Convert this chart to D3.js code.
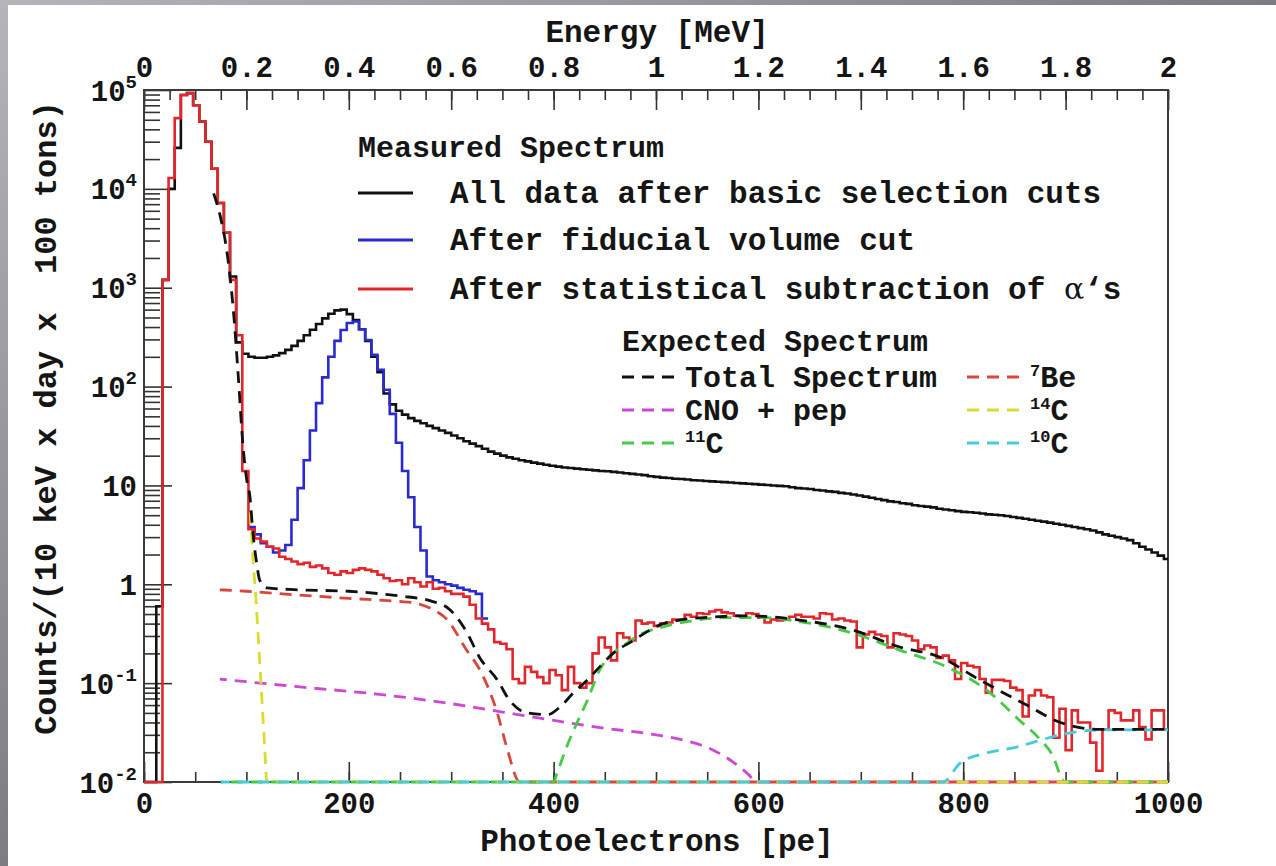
<!DOCTYPE html>
<html>
<head>
<meta charset="utf-8">
<script src="https://cdn.jsdelivr.net/npm/d3@7"></script>
<style>
  body { margin: 0; background: #fff; }
  svg text { font-family: "Liberation Mono", "Courier New", monospace; font-weight: bold; fill: #151515; }
</style>
</head>
<body>
<div id="chart"></div>
<script>
// Histogram bins: 6 pe wide, starting at 0 pe
var binWidth = 6;

// All data after basic selection cuts (black)
var allData = [
  0.01, 0.01, 0.6, 1200, 10000, 26000, 89000, 93000, 70000, 48000,
  30000, 16000, 7200, 3600, 1300, 280, 215, 200, 196, 196,
  200, 207, 218, 235, 258, 290, 330, 375, 430, 490,
  545, 590, 600, 540, 470, 380, 290, 200, 140, 85,
  66, 57, 52, 48, 45, 42.5, 40, 38, 36, 34,
  32, 30, 28, 26.5, 25, 23.5, 22, 21, 20, 19.2,
  18.6, 18, 17.5, 17, 16.6, 16.2, 15.8, 15.5, 15.2, 15,
  14.8, 14.6, 14.4, 14.2, 14, 13.9, 13.7, 13.5, 13.3, 13.1,
  12.9, 12.7, 12.4, 12.2, 12.0, 11.9, 11.7, 11.6, 11.5, 11.3,
  11.2, 11.1, 11.0, 10.9, 10.8, 10.7, 10.6, 10.5, 10.4, 10.3,
  10.2, 10.1, 10.0, 9.9, 9.8, 9.6, 9.4, 9.3, 9.2, 9.0,
  8.9, 8.7, 8.6, 8.4, 8.3, 8.1, 7.9, 7.7, 7.5, 7.3,
  7.1, 6.9, 6.8, 6.6, 6.5, 6.3, 6.2, 6.1, 6.0, 5.8,
  5.7, 5.6, 5.5, 5.4, 5.35, 5.3, 5.2, 5.1, 5.05, 5.0,
  4.9, 4.8, 4.7, 4.6, 4.5, 4.4, 4.3, 4.2, 4.1, 4.0,
  3.9, 3.8, 3.7, 3.6, 3.5, 3.35, 3.2, 3.1, 3.0, 2.9,
  2.8, 2.6, 2.4, 2.25, 2.1, 1.95, 1.8
];

// After fiducial volume cut (blue), first bin = 17
var fiducialFirstBin = 17;
var fiducialData = [
  3.8, 3.2, 2.6, 2.4, 2.1, 2.2, 2.5, 4.5, 9.4,
  18, 36, 68, 124, 200, 290, 374, 440, 455, 380,
  296, 209, 148, 93, 53, 27, 14, 7.6, 3.8, 2.2,
  1.2, 1.1, 1.05, 1.0, 0.97, 0.92, 0.88, 0.85, 0.8, 0.45
];

// After statistical subtraction of alphas (red)
var subtractedData = [
  0.01, 0.01, 0.01, 1200, 12900, 52000, 89000, 93000, 70000, 48000,
  30000, 16000, 7200, 3600, 1200, 330, 14, 3.6, 2.9, 2.7,
  2.4, 2.3, 1.9, 1.8, 1.7, 1.6, 1.65, 1.5, 1.55, 1.45,
  1.3, 1.25, 1.35, 1.3, 1.4, 1.45, 1.4, 1.35, 1.25, 1.15,
  1.08, 1.1, 1.0, 1.15, 1.05, 0.95, 1.05, 0.9, 0.92, 0.85,
  0.8, 0.8, 0.75, 0.62, 0.45, 0.40, 0.35, 0.26, 0.25, 0.22,
  0.11, 0.10, 0.146, 0.13, 0.115, 0.10, 0.136, 0.12, 0.085, 0.146,
  0.10, 0.09, 0.10, 0.20, 0.29, 0.23, 0.17, 0.32, 0.29, 0.27,
  0.43, 0.40, 0.41, 0.38, 0.40, 0.41, 0.44, 0.44, 0.49, 0.47,
  0.51, 0.50, 0.53, 0.55, 0.52, 0.51, 0.48, 0.47, 0.51, 0.50,
  0.46, 0.41, 0.44, 0.43, 0.44, 0.47, 0.49, 0.47, 0.47, 0.45,
  0.51, 0.50, 0.44, 0.45, 0.43, 0.42, 0.23, 0.31, 0.33, 0.31,
  0.30, 0.23, 0.32, 0.31, 0.30, 0.27, 0.22, 0.24, 0.23, 0.18,
  0.19, 0.17, 0.11, 0.16, 0.15, 0.145, 0.11, 0.08, 0.108, 0.108,
  0.105, 0.09, 0.085, 0.046, 0.075, 0.085, 0.075, 0.072, 0.028, 0.055,
  0.021, 0.053, 0.04, 0.04, 0.025, 0.013, 0.034, 0.053, 0.05, 0.042,
  0.042, 0.053, 0.036, 0.027, 0.053, 0.053, 0.034
];

// Expected spectrum components: [pe, counts]
var totalSpectrum = [[68, 9000], [75, 5000], [80, 2700], [84, 1300], [88, 480], [92, 130], [96.7, 25], [100, 12],
  [103.5, 7.6], [106.4, 3.3], [110, 1.64], [113, 1.1], [120, 0.92], [150, 0.88], [200, 0.85], [250, 0.76],
  [280, 0.68], [299, 0.55], [315, 0.33], [328, 0.18], [345, 0.108], [357, 0.067], [374, 0.05], [394, 0.048],
  [406, 0.057], [419, 0.079], [433, 0.108], [445, 0.146], [458, 0.2], [478, 0.27], [491, 0.33], [507, 0.4],
  [523, 0.435], [556, 0.467], [589, 0.48], [611, 0.47], [640, 0.435], [692, 0.345], [738, 0.232], [777, 0.184],
  [816, 0.108], [862, 0.06], [895, 0.04], [934, 0.034], [982, 0.034], [1000, 0.034]];
var be7 = [[74, 0.88], [100, 0.85], [150, 0.78], [200, 0.72], [250, 0.67], [263, 0.65], [280, 0.57], [296, 0.44],
  [315, 0.216], [328, 0.136], [345, 0.05], [354, 0.023], [367, 0.01], [1000, 0.01]];
var cnoPep = [[74, 0.11], [150, 0.092], [230, 0.077], [300, 0.062], [350, 0.051], [400, 0.042], [450, 0.035],
  [500, 0.03], [530, 0.026], [556, 0.021], [575, 0.016], [590, 0.012], [598, 0.01], [1000, 0.01]];
var c14 = [[103.5, 6], [105.5, 2.5], [109.4, 0.69], [112.3, 0.216], [115.2, 0.067], [118, 0.021], [120, 0.01], [1000, 0.01]];
var c11 = [[75, 0.01], [400, 0.01], [403, 0.012], [413, 0.023], [423, 0.04], [433, 0.067], [445, 0.136], [458, 0.2],
  [472, 0.255], [487, 0.32], [507, 0.37], [540, 0.435], [572, 0.46], [605, 0.46], [640, 0.42], [692, 0.32],
  [738, 0.216], [784, 0.146], [823, 0.085], [855, 0.042], [875, 0.027], [888, 0.018], [897, 0.0105], [900, 0.01], [1000, 0.01]];
var c10 = [[75, 0.01], [780, 0.01], [797, 0.0155], [823, 0.0197], [852, 0.0225], [878, 0.027], [901, 0.031],
  [934, 0.0336], [1000, 0.0336]];

// Tick values
var peTicks = [0, 200, 400, 600, 800, 1000];
var energyTicks = [0, 0.2, 0.4, 0.6, 0.8, 1, 1.2, 1.4, 1.6, 1.8, 2];
var decadeTicks = [0.01, 0.1, 1, 10, 100, 1000, 10000, 100000];
var decadeLabels = [["10", "-2"], ["10", "-1"], ["1", ""], ["10", ""], ["10", "2"], ["10", "3"], ["10", "4"], ["10", "5"]];

// Set SVG container dimensions
var svgWidth = 1276;
var svgHeight = 866;
var frame = { left: 144, right: 1168, top: 90, bottom: 782 };

var svg = d3.select("#chart")
  .append("svg")
  .attr("width", svgWidth)
  .attr("height", svgHeight);

// Grey border of the original slide
var defs = svg.append("defs");
var grad = defs.append("linearGradient").attr("id", "bg").attr("x1", 0).attr("y1", 0).attr("x2", 1).attr("y2", 1);
grad.append("stop").attr("offset", "0%").attr("stop-color", "#b4b4ba");
grad.append("stop").attr("offset", "50%").attr("stop-color", "#7c7c84");
grad.append("stop").attr("offset", "100%").attr("stop-color", "#5c5c62");
svg.append("rect").attr("width", svgWidth).attr("height", svgHeight).attr("fill", "url(#bg)");
svg.append("rect").attr("x", 8).attr("y", 5).attr("width", svgWidth - 8).attr("height", svgHeight - 5).attr("fill", "#fff");

defs.append("clipPath").attr("id", "plotClip")
  .append("rect")
  .attr("x", frame.left).attr("y", frame.top - 5)
  .attr("width", frame.right - frame.left).attr("height", frame.bottom - frame.top + 10);

// Scales
var x = d3.scaleLinear().domain([0, 1000]).range([frame.left, frame.right]);
var xEnergy = d3.scaleLinear().domain([0, 2]).range([frame.left, frame.right]);
var y = d3.scaleLog().domain([0.01, 1e5]).range([frame.bottom, frame.top]).clamp(true);

// Axes
function styleAxis(g) {
  g.select(".domain").remove();
  g.selectAll(".tick line").attr("stroke", "#333").attr("stroke-width", 1.6);
  g.selectAll(".tick text").attr("fill", "#151515").style("font-size", "29px")
    .style("font-family", "'Liberation Mono', 'Courier New', monospace").style("font-weight", "bold");
}

svg.append("g").attr("transform", `translate(0, ${frame.bottom})`)
  .call(d3.axisBottom(x).tickValues(d3.range(0, 1001, 50)).tickSize(-10).tickFormat(""))
  .call(styleAxis);
svg.append("g").attr("transform", `translate(0, ${frame.bottom})`)
  .call(d3.axisBottom(x).tickValues(peTicks).tickSize(-20).tickPadding(10).tickFormat(d3.format("d")))
  .call(styleAxis);

svg.append("g").attr("transform", `translate(0, ${frame.top})`)
  .call(d3.axisTop(xEnergy).tickValues(d3.range(0, 41).map(i => i / 20)).tickSize(-10).tickFormat(""))
  .call(styleAxis);
svg.append("g").attr("transform", `translate(0, ${frame.top})`)
  .call(d3.axisTop(xEnergy).tickValues(energyTicks).tickSize(-20).tickPadding(13).tickFormat(d => String(d)))
  .call(styleAxis);

var minorY = [];
d3.range(-2, 5).forEach(function(e) {
  d3.range(2, 10).forEach(function(k) { minorY.push(k * Math.pow(10, e)); });
});
svg.append("g").attr("transform", `translate(${frame.left}, 0)`)
  .call(d3.axisLeft(y).tickValues(minorY).tickSize(-16).tickFormat(""))
  .call(styleAxis);
var yMajor = svg.append("g").attr("transform", `translate(${frame.left}, 0)`)
  .call(d3.axisLeft(y).tickValues(decadeTicks).tickSize(-28).tickFormat(""))
  .call(styleAxis);

yMajor.selectAll(".tick").each(function(d, i) {
  var lab = decadeLabels[i];
  var t = d3.select(this).append("text")
    .attr("x", -7).attr("y", 10)
    .attr("text-anchor", "end")
    .style("font-size", "29px");
  t.append("tspan").text(lab[0]);
  if (lab[1]) {
    t.append("tspan").attr("dy", -13).style("font-size", "19px").text(lab[1]);
  }
});

// Frame
svg.append("rect")
  .attr("x", frame.left).attr("y", frame.top)
  .attr("width", frame.right - frame.left).attr("height", frame.bottom - frame.top)
  .attr("fill", "none").attr("stroke", "#3a3a3a").attr("stroke-width", 2);

// Axis titles
svg.append("text").attr("x", 657).attr("y", 42).attr("text-anchor", "middle")
  .style("font-size", "31px").text("Energy [MeV]");
svg.append("text").attr("x", 657).attr("y", 851).attr("text-anchor", "middle")
  .style("font-size", "31px").text("Photoelectrons [pe]");
svg.append("text").attr("transform", "translate(56, 418) rotate(-90)").attr("text-anchor", "middle")
  .style("font-size", "32px").attr("xml:space", "preserve").text("Counts/(10 keV x day x  100 tons)");

// Data layer
var plotG = svg.append("g").attr("clip-path", "url(#plotClip)");

function histPoints(values, firstBin) {
  var pts = values.map(function(v, i) { return [(firstBin + i) * binWidth, v]; });
  pts.push([(firstBin + values.length) * binWidth, values[values.length - 1]]);
  return pts;
}
var stepLine = d3.line().x(d => x(d[0])).y(d => y(d[1])).curve(d3.curveStepAfter);
var smoothLine = d3.line().x(d => x(d[0])).y(d => y(d[1])).curve(d3.curveMonotoneX);

var floorComponents = [
  { data: be7, color: "#d9473c", offset: 0 },
  { data: cnoPep, color: "#d046d6", offset: 5 },
  { data: c11, color: "#45cc45", offset: 10 },
  { data: c14, color: "#dcdc30", offset: 15 },
  { data: c10, color: "#44ccdc", offset: 3 }
];

plotG.append("path").attr("d", stepLine(histPoints(allData, 0)))
  .attr("fill", "none").attr("stroke", "#111").attr("stroke-width", 2.6);
plotG.append("path").attr("d", stepLine(histPoints(fiducialData, fiducialFirstBin)))
  .attr("fill", "none").attr("stroke", "#2a2ad2").attr("stroke-width", 2.6);
plotG.append("path").attr("d", stepLine(histPoints(subtractedData, 0)))
  .attr("fill", "none").attr("stroke", "#e2262b").attr("stroke-width", 2.6);

floorComponents.forEach(function(c) {
  plotG.append("path").attr("d", smoothLine(c.data))
    .attr("fill", "none").attr("stroke", c.color).attr("stroke-width", 2.8)
    .attr("stroke-dasharray", "12,8").attr("stroke-dashoffset", c.offset);
});
plotG.append("path").attr("d", smoothLine(totalSpectrum))
  .attr("fill", "none").attr("stroke", "#111").attr("stroke-width", 2.8)
  .attr("stroke-dasharray", "12,8");

// Legend: measured spectrum
var legend = svg.append("g");
legend.append("text").attr("x", 358).attr("y", 157).style("font-size", "30px").text("Measured Spectrum");
var measured = [
  { label: "All data after basic selection cuts", color: "#111", y: 193 },
  { label: "After fiducial volume cut", color: "#2a2ad2", y: 240 },
  { label: "After statistical subtraction of ", color: "#e2262b", y: 289 }
];
measured.forEach(function(m, i) {
  legend.append("line").attr("x1", 358).attr("x2", 413).attr("y1", m.y).attr("y2", m.y)
    .attr("stroke", m.color).attr("stroke-width", 2.8);
  var t = legend.append("text").attr("x", 450).attr("y", m.y + 10).style("font-size", "31px")
    .attr("xml:space", "preserve").text(m.label);
  if (i === 2) {
    t.append("tspan").style("font-family", "'DejaVu Serif', serif").style("font-weight", "normal")
      .style("font-size", "30px").text("\u03b1");
    t.append("tspan").text("\u2018s");
  }
});

// Legend: expected spectrum
legend.append("text").attr("x", 622).attr("y", 351).style("font-size", "30px").text("Expected Spectrum");
var expected = [
  { label: ["", "Total Spectrum"], color: "#111", col: 0, row: 0 },
  { label: ["7", "Be"], color: "#d9473c", col: 1, row: 0 },
  { label: ["", "CNO + pep"], color: "#d046d6", col: 0, row: 1 },
  { label: ["14", "C"], color: "#dcdc30", col: 1, row: 1 },
  { label: ["11", "C"], color: "#45cc45", col: 0, row: 2 },
  { label: ["10", "C"], color: "#44ccdc", col: 1, row: 2 }
];
expected.forEach(function(e) {
  var x0 = e.col === 0 ? 622 : 967;
  var yc = 377 + e.row * 33;
  legend.append("line").attr("x1", x0).attr("x2", x0 + 60).attr("y1", yc).attr("y2", yc)
    .attr("stroke", e.color).attr("stroke-width", 2.8).attr("stroke-dasharray", "12,8");
  var t = legend.append("text").attr("x", x0 + 63).attr("y", yc + 10).style("font-size", "30px");
  if (e.label[0]) {
    t.append("tspan").attr("dy", -11).style("font-size", "17px").text(e.label[0]);
    t.append("tspan").attr("dy", 11).text(e.label[1]);
  } else {
    t.text(e.label[1]);
  }
});
</script>
</body>
</html>
